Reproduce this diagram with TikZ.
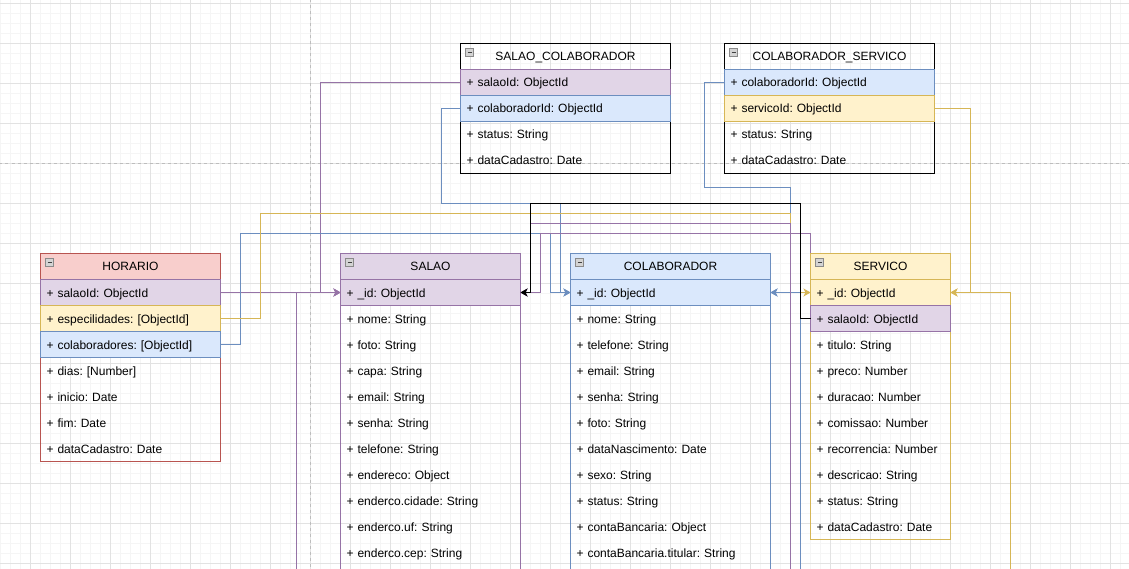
\documentclass[tikz,border=0pt]{standalone}
\usepackage{fontspec}
\setmainfont{Liberation Sans}
\usetikzlibrary{arrows.meta}
\frenchspacing
\definecolor{pF}{HTML}{E1D5E7}\definecolor{pS}{HTML}{9673A6}
\definecolor{bF}{HTML}{DAE8FC}\definecolor{bS}{HTML}{6C8EBF}
\definecolor{yF}{HTML}{FFF2CC}\definecolor{yS}{HTML}{D6B656}
\definecolor{rF}{HTML}{F8CECC}\definecolor{rS}{HTML}{B85450}
\definecolor{gMinor}{HTML}{F5F5F5}\definecolor{gMajor}{HTML}{E2E2E2}
\definecolor{gBreak}{HTML}{BDBDBD}
\definecolor{icF}{HTML}{D4D4D4}\definecolor{icS}{HTML}{8A8A8A}
\newcommand\dgfont{\fontsize{12pt}{14pt}\selectfont\frenchspacing}
\begin{document}
\begin{tikzpicture}[x=1pt,y=-1pt,
  tbl/.style={rectangle,anchor=north west,inner sep=0pt,outer sep=0pt,line width=1pt,fill=none},
  hdr/.style={rectangle,anchor=north west,inner sep=0pt,outer sep=0pt,line width=1pt,minimum height=26pt,text height=9pt,text depth=0pt,font=\dgfont},
  rowbox/.style={rectangle,anchor=north west,inner xsep=6pt,inner ysep=0pt,outer sep=0pt,line width=1pt,minimum height=26pt,text height=9pt,text depth=0pt,align=left,font=\dgfont},
  wA/.style={minimum width=180pt,text width=168pt},
  wB/.style={minimum width=200pt,text width=188pt},
  wC/.style={minimum width=140pt,text width=128pt},
  wD/.style={minimum width=210pt,text width=198pt},
  icon/.style={rectangle,anchor=north west,inner sep=0pt,outer sep=0pt,minimum width=8pt,minimum height=8pt,line width=0.8pt,draw=icS,fill=icF,
    path picture={\draw[black!75,line width=1pt] ([xshift=2pt]path picture bounding box.west) -- ([xshift=-2pt]path picture bounding box.east);}},
  con/.style={line width=1pt,-{Stealth[length=7pt,width=8pt,inset=2pt]}},
  pgbrk/.style={gBreak,line width=1pt,dash pattern=on 3pt off 3pt}
]
\useasboundingbox (-0.5,-0.5) rectangle (1128.5,568.5);
\clip (-0.5,-0.5) rectangle (1128.5,568.5);
\fill[white] (-0.5,-0.5) rectangle (1128.5,568.5);
% grid
\foreach \x in {0,10,...,1120} \draw[gMinor,line width=1pt] (\x,-1) -- (\x,570);
\foreach \y in {3,13,...,563} \draw[gMinor,line width=1pt] (-1,\y) -- (1130,\y);
\foreach \x in {30,70,...,1110} \draw[gMajor,line width=1pt] (\x,-1) -- (\x,570);
\foreach \y in {3,43,...,563} \draw[gMajor,line width=1pt] (-1,\y) -- (1130,\y);
\draw[pgbrk] (310,-1) -- (310,570);
\draw[pgbrk] (-1,163) -- (1130,163);

% ---------- HORARIO
\node[tbl,draw=rS,minimum width=180pt,minimum height=208pt] (hor) at (40,253) {};
\node[hdr,fill=rF,draw=rS,minimum width=180pt] (hor-h) at (40,253) {HORARIO};
\node[rowbox,wA,fill=pF,draw=pS] (hor-salaoId) at (40,279) {+ salaoId: ObjectId};
\node[rowbox,wA,fill=yF,draw=yS] (hor-esp) at (40,305) {+ especilidades: [ObjectId]};
\node[rowbox,wA,fill=bF,draw=bS] (hor-col) at (40,331) {+ colaboradores: [ObjectId]};
\node[rowbox,wA] (hor-dias) at (40,357) {+ dias: [Number]};
\node[rowbox,wA] (hor-inicio) at (40,383) {+ inicio: Date};
\node[rowbox,wA] (hor-fim) at (40,409) {+ fim: Date};
\node[rowbox,wA] (hor-data) at (40,435) {+ dataCadastro: Date};
\node[icon] (hor-ic) at (45,258) {};

% ---------- SALAO
\node[tbl,draw=pS,minimum width=180pt,minimum height=420pt] (salao) at (340,253) {};
\node[hdr,fill=pF,draw=pS,minimum width=180pt] (salao-h) at (340,253) {SALAO};
\node[rowbox,wA,fill=pF,draw=pS] (salao-id) at (340,279) {+ \_id: ObjectId};
\foreach \t [count=\i] in {nome: String,foto: String,capa: String,email: String,senha: String,telefone: String,endereco: Object,enderco.cidade: String,enderco.uf: String,enderco.cep: String}
  \node[rowbox,wA] (salao-r\i) at (340,279+26*\i) {+ \t};
\node[icon] (salao-ic) at (345,258) {};

% ---------- COLABORADOR
\node[tbl,draw=bS,minimum width=200pt,minimum height=420pt] (colab) at (570,253) {};
\node[hdr,fill=bF,draw=bS,minimum width=200pt] (colab-h) at (570,253) {COLABORADOR};
\node[rowbox,wB,fill=bF,draw=bS] (colab-id) at (570,279) {+ \_id: ObjectId};
\foreach \t [count=\i] in {nome: String,telefone: String,email: String,senha: String,foto: String,dataNascimento: Date,sexo: String,status: String,contaBancaria: Object,contaBancaria.titular: String}
  \node[rowbox,wB] (colab-r\i) at (570,279+26*\i) {+ \t};
\node[icon] (colab-ic) at (575,258) {};

% ---------- SERVICO
\node[tbl,draw=yS,minimum width=140pt,minimum height=286pt] (serv) at (810,253) {};
\node[hdr,fill=yF,draw=yS,minimum width=140pt] (serv-h) at (810,253) {SERVICO};
\node[rowbox,wC,fill=yF,draw=yS] (serv-id) at (810,279) {+ \_id: ObjectId};
\node[rowbox,wC,fill=pF,draw=pS] (serv-salaoId) at (810,305) {+ salaoId: ObjectId};
\foreach \t [count=\i] in {titulo: String,preco: Number,duracao: Number,comissao: Number,recorrencia: Number,descricao: String,status: String,dataCadastro: Date}
  \node[rowbox,wC] (serv-r\i) at (810,305+26*\i) {+ \t};
\node[icon] (serv-ic) at (815,258) {};

% ---------- SALAO_COLABORADOR
\node[tbl,draw=black,minimum width=210pt,minimum height=130pt] (sc) at (460,43) {};
\node[hdr,draw=black,minimum width=210pt] (sc-h) at (460,43) {SALAO\_COLABORADOR};
\node[rowbox,wD,fill=pF,draw=pS] (sc-salaoId) at (460,69) {+ salaoId: ObjectId};
\node[rowbox,wD,fill=bF,draw=bS] (sc-colId) at (460,95) {+ colaboradorId: ObjectId};
\node[rowbox,wD] (sc-status) at (460,121) {+ status: String};
\node[rowbox,wD] (sc-data) at (460,147) {+ dataCadastro: Date};
\node[icon] (sc-ic) at (465,48) {};

% ---------- COLABORADOR_SERVICO
\node[tbl,draw=black,minimum width=210pt,minimum height=130pt] (cs) at (724,43) {};
\node[hdr,draw=black,minimum width=210pt] (cs-h) at (724,43) {COLABORADOR\_SERVICO};
\node[rowbox,wD,fill=bF,draw=bS] (cs-colId) at (724,69) {+ colaboradorId: ObjectId};
\node[rowbox,wD,fill=yF,draw=yS] (cs-servId) at (724,95) {+ servicoId: ObjectId};
\node[rowbox,wD] (cs-status) at (724,121) {+ status: String};
\node[rowbox,wD] (cs-data) at (724,147) {+ dataCadastro: Date};
\node[icon] (cs-ic) at (729,48) {};

% ---------- free ends below the view
\coordinate (low-a) at (296,640);
\coordinate (low-b) at (790,640);
\coordinate (low-c) at (800,640);
\coordinate (low-d) at (1010,640);

% ---------- connectors
\draw[con,pS] (low-a) |- (salao-id.west);
\draw[con,pS] (hor-salaoId.east) -- (salao-id.west);
\draw[con,pS] (sc-salaoId.west) -| (320,292) -- (salao-id.west);
\draw[con,bS] (hor-col.east) -- (240,344) |- (550,233) |- (colab-id.west);
\draw[con,bS] (sc-colId.west) -- (441,108) |- (560,203) |- (colab-id.west);
\draw[con,bS] (cs-colId.west) -- (704,82) |- (790,187) |- (colab-id.east);
\draw[con,yS] (hor-esp.east) -- (260,318) |- (790,213) |- (serv-id.west);
\draw[con,bS] (low-c) |- (colab-id.east);
\draw[con,pS] (low-b) |- (530,223) |- (salao-id.east);
\draw[con,pS] (serv.north west) |- (540,233) |- (salao-id.east);
\draw[con,black] (serv-salaoId.west) -- (800,318) |- (530,203) |- (salao-id.east);
\draw[con,yS] (cs-servId.east) -- (970,108) |- (serv-id.east);
\draw[con,yS] (low-d) |- (serv-id.east);
\end{tikzpicture}
\end{document}
